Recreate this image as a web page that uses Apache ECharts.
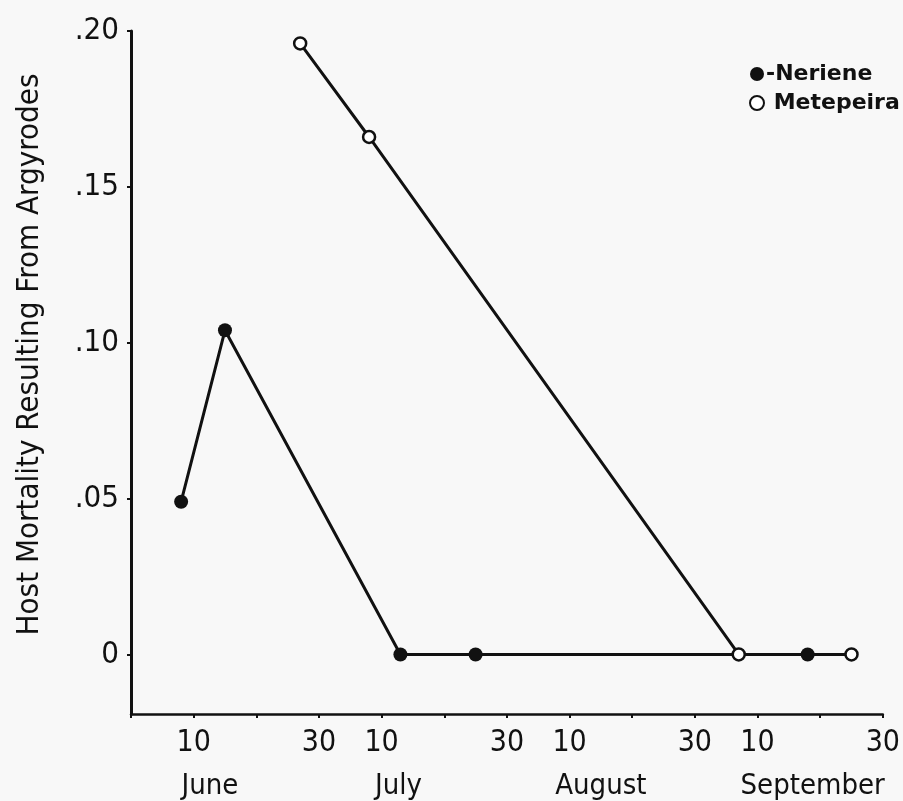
<!DOCTYPE html>
<html>
<head>
<meta charset="utf-8">
<script src="https://cdn.jsdelivr.net/npm/echarts@6/dist/echarts.min.js"></script>
<style>
    html, body { margin: 0; padding: 0; background: #f8f8f8; }
    #chart { width: 903px; height: 801px; }
</style>
</head>
<body>
<div id="chart"></div>
<script>
// days counted from May 31 (one tick = 10 days)
const nerieneDays = [8, 15, 43, 55, 108];
const nerieneValues = [0.049, 0.104, 0, 0, 0];
const metepeiraDays = [27, 38, 97, 115];
const metepeiraValues = [0.196, 0.166, 0, 0];

const xTickLabels = ['', '10', '', '30', '10', '', '30', '10', '', '30', '10', '', '30'];
const monthNames = ['June', 'July', 'August', 'September'];
const monthLabelDays = [12.6, 42.7, 75, 108.8];
const yTickValues = [0, 0.05, 0.10, 0.15, 0.20];
const yTickLabels = ['0', '.05', '.10', '.15', '.20'];

const ink = '#111';
const narrow = '"DejaVu Sans Condensed", sans-serif';

const chart = echarts.init(document.getElementById('chart'));

const option = {
    backgroundColor: '#f8f8f8',
    animation: false,
    grid: { left: 131, right: 20, top: 31, bottom: 82 },
    legend: {
        orient: 'vertical',
        left: 744,
        top: 58,
        itemWidth: 14,
        itemHeight: 14,
        itemGap: 7,
        textStyle: { fontFamily: '"DejaVu Sans", sans-serif', fontWeight: 'bold', fontSize: 22, color: ink, padding: [0, 0, 0, -3] },
        formatter: name => (name === 'Neriene' ? '-' : ' ') + name,
        data: [
            { name: 'Neriene', icon: 'circle', itemStyle: { color: ink } },
            { name: 'Metepeira', icon: 'circle', itemStyle: { color: '#fff', borderColor: ink, borderWidth: 2 } }
        ]
    },
    xAxis: [
        {
            type: 'value',
            min: 0,
            max: 120,
            interval: 10,
            splitLine: { show: false },
            axisLine: { onZero: false, lineStyle: { color: ink, width: 2.5 } },
            axisTick: { length: 4, lineStyle: { color: ink, width: 2 } },
            axisLabel: {
                margin: 14,
                color: ink,
                fontFamily: narrow,
                fontSize: 30,
                formatter: v => xTickLabels[Math.round(v / 10)] || ''
            }
        },
        {
            type: 'value',
            position: 'bottom',
            offset: 50,
            min: 0,
            max: 120,
            splitLine: { show: false },
            axisLine: { show: false },
            axisTick: { show: false },
            axisLabel: {
                customValues: monthLabelDays,
                color: ink,
                fontFamily: narrow,
                fontSize: 29,
                formatter: v => monthNames[monthLabelDays.indexOf(v)] || ''
            }
        }
    ],
    yAxis: {
        type: 'value',
        min: -0.0191,
        max: 0.2,
        splitLine: { show: false },
        name: 'Host Mortality Resulting From Argyrodes',
        nameLocation: 'middle',
        nameGap: 86,
        nameTextStyle: { fontFamily: narrow, fontSize: 31, color: ink, padding: [0, 0, 0, 36] },
        axisLine: { onZero: false, lineStyle: { color: ink, width: 3 } },
        axisTick: { customValues: yTickValues, length: 4, lineStyle: { color: ink, width: 2 } },
        axisLabel: {
            customValues: yTickValues,
            margin: 12,
            color: ink,
            fontFamily: narrow,
            fontSize: 31,
            formatter: v => yTickLabels[yTickValues.indexOf(v)] || ''
        }
    },
    series: [
        {
            name: 'Neriene',
            type: 'line',
            data: nerieneDays.map((d, i) => [d, nerieneValues[i]]),
            symbol: 'circle',
            symbolSize: 14,
            itemStyle: { color: ink },
            lineStyle: { color: ink, width: 3 },
            z: 3
        },
        {
            name: 'Metepeira',
            type: 'line',
            data: metepeiraDays.map((d, i) => [d, metepeiraValues[i]]),
            symbol: 'circle',
            symbolSize: 12,
            itemStyle: { color: '#fff', borderColor: ink, borderWidth: 2.5 },
            lineStyle: { color: ink, width: 3 },
            z: 4
        }
    ]
};

chart.setOption(option);
</script>
</body>
</html>
